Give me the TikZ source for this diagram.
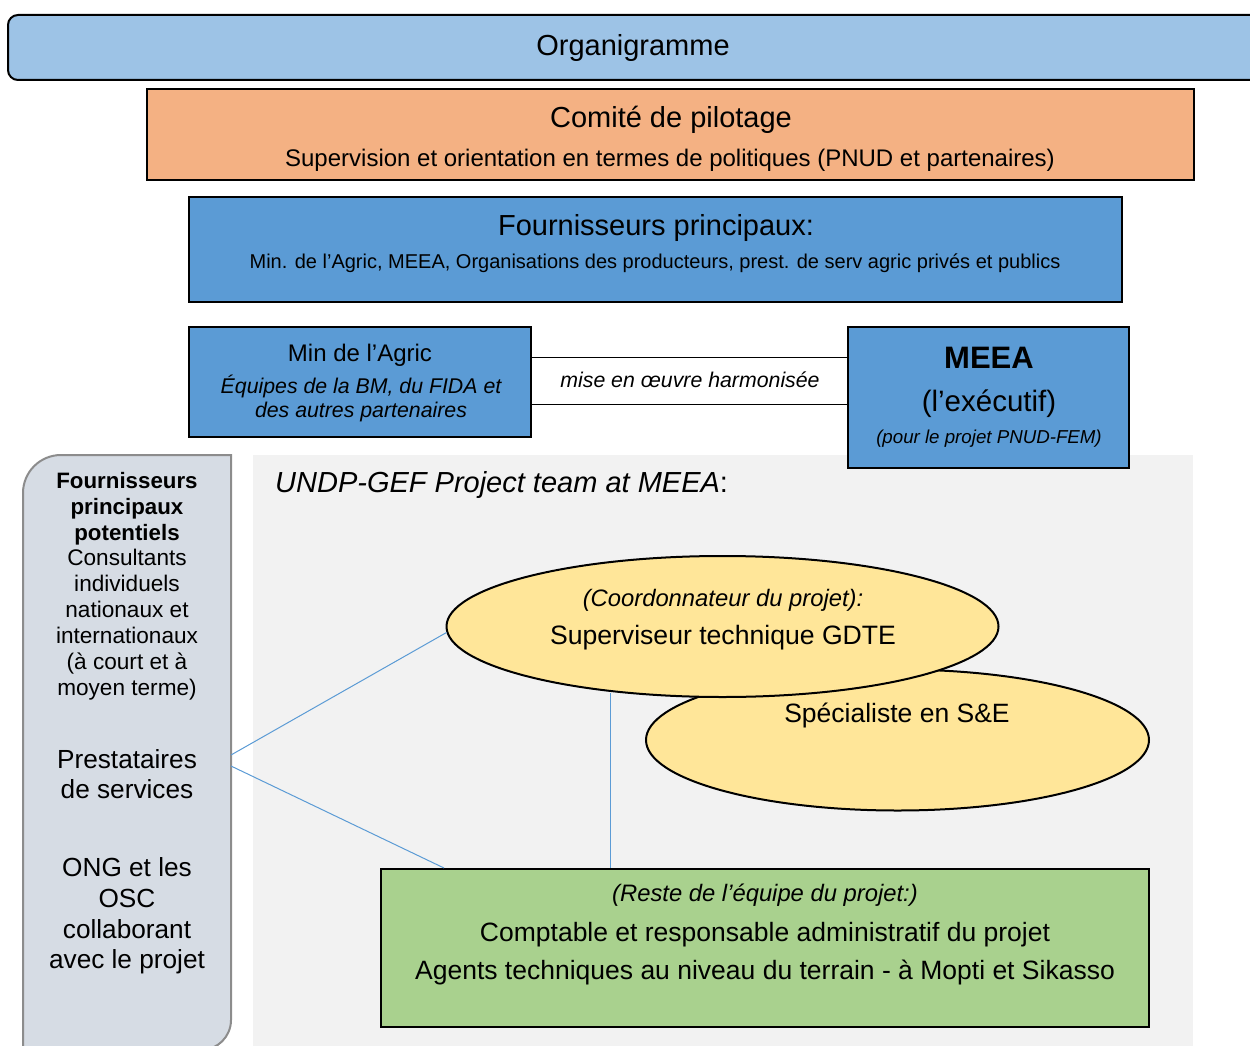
\documentclass[tikz,border=0pt]{standalone}
\usepackage{fontspec}
\setmainfont{Liberation Sans}
\usetikzlibrary{shapes.geometric,calc}
\definecolor{orgblue}{HTML}{9DC3E6}
\definecolor{comite}{HTML}{F4B183}
\definecolor{fourn}{HTML}{5B9BD5}
\definecolor{panelgray}{HTML}{D6DCE4}
\definecolor{panelline}{HTML}{8C8C8C}
\definecolor{teambg}{HTML}{F2F2F2}
\definecolor{staff}{HTML}{FFE699}
\definecolor{rest}{HTML}{A9D18E}
\definecolor{link}{HTML}{5B9BD5}

\tikzset{
  fs/.style={font=\fontsize{#1}{#1}\selectfont},
  txt/.style={inner sep=0pt, anchor=base},
  boxed/.style={draw=black, line width=2pt, inner sep=0pt},
  oval/.style={ellipse, draw=black, line width=2pt, fill=staff, inner sep=0pt},
  linkline/.style={draw=link, line width=1pt}
}

\begin{document}
\begin{tikzpicture}[x=1pt, y=-1pt]
  \useasboundingbox (0,0) rectangle (1250,1046);

  % Title bar
  \node[boxed, fill=orgblue, rounded corners=10pt, minimum width=1262pt, minimum height=65pt]
    (org) at (639,47.5) {};
  \node[txt, fs=29] (orgT) at (633,56) {Organigramme};

  % Steering committee
  \node[boxed, fill=comite, minimum width=1047pt, minimum height=91pt] (comite) at (670.5,134.5) {};
  \node[txt, fs=29] (comiteT) at (671,128) {Comité de pilotage};
  \node[txt, fs=24] (comiteS) at (670,166) {Supervision et orientation en termes de politiques (PNUD et partenaires)};

  % Main providers
  \node[boxed, fill=fourn, minimum width=933pt, minimum height=105pt] (fourn) at (655.5,249.5) {};
  \node[txt, fs=29] (fournT) at (656,235) {Fournisseurs principaux:};
  \node[txt, fs=20] (fournS) at (655,268) {Min. de l’Agric, MEEA, Organisations des producteurs, prest. de serv agric privés et publics};

  % Team background
  \fill[teambg] (253,455) rectangle (1193,1050);
  \node[txt, anchor=base west, font=\fontsize{29}{29}\selectfont\itshape] (teamT) at (275,492.5)
    {UNDP-GEF Project team at MEEA\upshape:};

  % Ministry boxes and harmonised implementation
  \node[boxed, fill=fourn, minimum width=342pt, minimum height=110pt] (agric) at (360,382) {};
  \node[txt, fs=24] (agricT) at (360,361) {Min de l’Agric};
  \node[txt, font=\fontsize{21.3}{21.3}\selectfont\itshape] (agricS1) at (361,393.5) {Équipes de la BM, du FIDA et};
  \node[txt, font=\fontsize{21.3}{21.3}\selectfont\itshape] (agricS2) at (361,417.5) {des autres partenaires};

  \node[boxed, fill=fourn, minimum width=281pt, minimum height=141pt] (meea) at (988.5,397.5) {};
  \node[txt, font=\fontsize{31}{31}\selectfont\bfseries] (meeaT) at (989,368) {MEEA};
  \node[txt, fs=29.5] (meeaS) at (989,411.5) {(l’exécutif)};
  \node[txt, font=\fontsize{18.7}{18.7}\selectfont\itshape] (meeaP) at (989,443.5) {(pour le projet PNUD-FEM)};

  \draw[line width=1pt] (agric.east |- 0,357) -- (meea.west |- 0,357);
  \draw[line width=1pt] (agric.east |- 0,404) -- (meea.west |- 0,404);
  \node[txt, font=\fontsize{21.3}{21.3}\selectfont\itshape] (harmo) at (690,387.5) {mise en œuvre harmonisée};

  % Potential providers panel
  \filldraw[fill=panelgray, draw=panelline, line width=2pt]
    (23,1060) -- (23,493) .. controls (23,472) and (40,455) .. (61,455)
    -- (231,455) -- (231,1020) .. controls (231,1036.6) and (217.6,1050) .. (201,1050) -- (23,1050);
  \foreach \ln [count=\i] in {Fournisseurs, principaux, potentiels}
    \node[txt, font=\fontsize{22.3}{22.3}\selectfont\bfseries] (pot\i) at (127,462+26*\i) {\ln};
  \foreach \ln [count=\i] in {Consultants, individuels, nationaux et, internationaux, {(à court et à}, {moyen terme)}}
    \node[txt, fs=22.6] (cons\i) at (127,539+26*\i) {\ln};
  \foreach \ln [count=\i] in {Prestataires, de services}
    \node[txt, fs=26.2] (pres\i) at (127,738.5+30*\i) {\ln};
  \foreach \ln [count=\i] in {ONG et les, OSC, collaborant, avec le projet}
    \node[txt, fs=26.2] (ong\i) at (127,846+30.7*\i) {\ln};
  \coordinate (panelA) at (231,755);
  \coordinate (panelB) at (231,766);

  % Project staff
  \node[oval, minimum width=503pt, minimum height=141pt] (suivi) at (897.5,740) {};
  \node[oval, minimum width=552pt, minimum height=141pt] (coord) at (722.5,626.5) {};
  \node[txt, font=\fontsize{23.8}{23.8}\selectfont\itshape] (coordT) at (723,606.5) {(Coordonnateur du projet):};
  \node[txt, fs=26.6] (coordS) at (723,644.5) {Superviseur technique GDTE};
  \node[txt, fs=26.5] (suiviT) at (897,722.5) {Spécialiste en S\&E};

  \node[boxed, fill=rest, minimum width=768pt, minimum height=158pt] (reste) at (765,948) {};
  \node[txt, font=\fontsize{23.8}{23.8}\selectfont\itshape] (resteT) at (765,901.5) {(Reste de l’équipe du projet:)};
  \node[txt, fs=26.5] (resteS1) at (765,941.5) {Comptable et responsable administratif du projet};
  \node[txt, fs=26.5] (resteS2) at (765,979.5) {Agents techniques au niveau du terrain - à Mopti et Sikasso};

  % Links
  \coordinate (coordFoot) at ($(coord.south)+(-112.5,-5)$);
  \path[linkline] (panelA) -- ($(coord.west)+(1,6)$);
  \path[linkline] (panelB) -- ($(reste.north west)+(64,0)$);
  \path[linkline] (coordFoot) -- (coordFoot |- reste.north);
\end{tikzpicture}
\end{document}
